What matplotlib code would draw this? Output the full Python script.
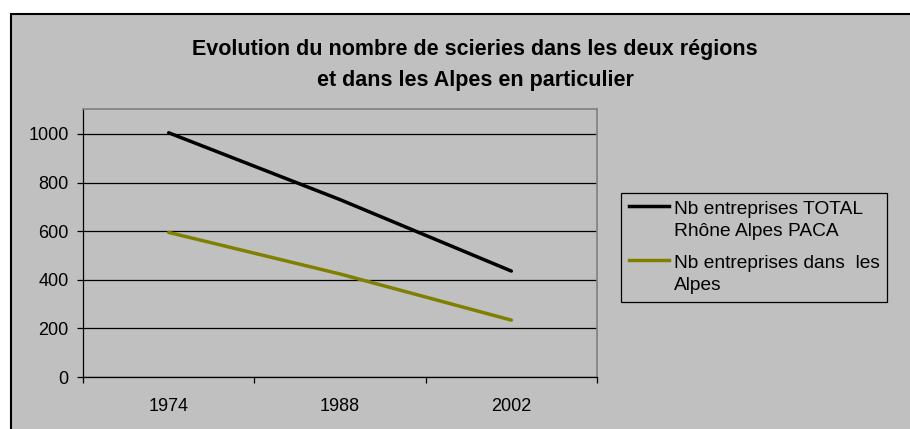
import matplotlib.pyplot as plt
from matplotlib.patches import Rectangle
from matplotlib.lines import Line2D

years = ["1974", "1988", "2002"]
total_rhone_alpes_paca = [1005, 730, 436]
alpes = [595, 424, 234]
labels = ["Nb entreprises TOTAL\nRhône Alpes PACA", "Nb entreprises dans  les\nAlpes"]
colors = ['black', '#808000']

plt.rcParams['font.family'] = ['Liberation Sans', 'DejaVu Sans']

W, H = 910, 429
fig = plt.figure(figsize=(W / 100, H / 100), dpi=100)
fig.patch.set_facecolor('white')

# chart area (cropped on right and bottom)
fig.patches.append(Rectangle((11 / W, -0.05), 1.1, (H - 14) / H + 0.05, transform=fig.transFigure,
                             facecolor='#c0c0c0', edgecolor='black', lw=1.5, zorder=-5))

ax = fig.add_axes([83 / W, (H - 377) / H, (597 - 83) / W, (377 - 109) / H], zorder=2)
ax.set_facecolor('#c0c0c0')

x = range(len(years))
ax.plot(x, total_rhone_alpes_paca, color=colors[0], lw=2.5, solid_capstyle='round', zorder=3)
ax.plot(x, alpes, color=colors[1], lw=2.5, solid_capstyle='round', zorder=3)

ax.set_xlim(-0.5, 2.5)
ax.set_ylim(0, 1000 * (377 - 109) / (377 - 134))
ax.set_yticks([0, 200, 400, 600, 800, 1000])
ax.yaxis.grid(True, color='black', lw=0.9)
ax.set_axisbelow(True)

ax.set_xticks(list(x))
ax.set_xticklabels(years)
ax.set_xticks([-0.5, 0.5, 1.5, 2.5], minor=True)
ax.tick_params(axis='x', which='major', length=0, pad=15, labelsize=13)
ax.tick_params(axis='x', which='minor', length=4.3, width=0.9, direction='out')
ax.tick_params(axis='y', length=4.3, width=0.9, pad=6, labelsize=13)

for s in ['left', 'bottom']:
    ax.spines[s].set_color('black')
    ax.spines[s].set_linewidth(0.9)
for s in ['top', 'right']:
    ax.spines[s].set_color('#808080')
    ax.spines[s].set_linewidth(1.2)

fig.text(475 / W, 1 - 65 / H, "Evolution du nombre de scieries dans les deux régions\net dans les Alpes en particulier",
         ha='center', va='center', fontsize=15.5, fontweight='bold', linespacing=1.6, zorder=3)

# legend drawn by hand so the line sits on the first text row, like Excel
fig.patches.append(Rectangle((621 / W, 1 - 302 / H), 266 / W, 109 / H, transform=fig.transFigure,
                             facecolor='#c0c0c0', edgecolor='black', lw=0.9, zorder=1))
row_y = [206, 260]
for lab, col, yy in zip(labels, colors, row_y):
    fig.lines.append(Line2D([629 / W, 669 / W], [1 - yy / H, 1 - yy / H], transform=fig.transFigure,
                            color=col, lw=2.5, zorder=2))
    fig.text(674 / W, 1 - (yy - 5) / H, lab, ha='left', va='top', fontsize=13.8, linespacing=1.37, zorder=2)

fig.savefig('out.png', dpi=100)
